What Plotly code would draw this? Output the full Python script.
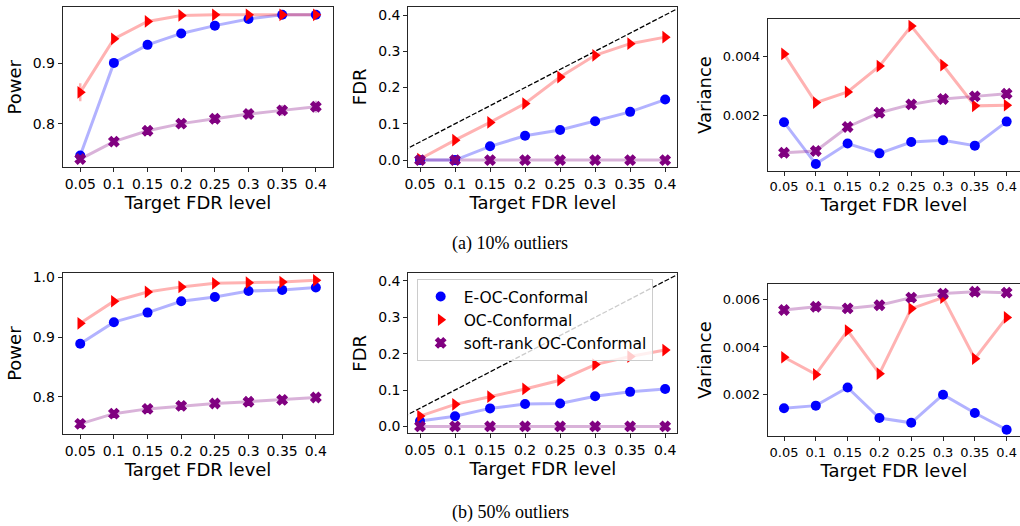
import plotly.graph_objects as go

# ---------------- data ----------------
levels = [0.05, 0.1, 0.15, 0.2, 0.25, 0.3, 0.35, 0.4]
level_labels = ["0.05", "0.1", "0.15", "0.2", "0.25", "0.3", "0.35", "0.4"]
methods = ["E-OC-Conformal", "OC-Conformal", "soft-rank OC-Conformal"]

# (a) 10% outliers
power10_e = [0.747, 0.901, 0.931, 0.950, 0.963, 0.974, 0.981, 0.981]
power10_oc = [0.852, 0.941, 0.970, 0.980, 0.981, 0.981, 0.981, 0.981]
power10_sr = [0.741, 0.770, 0.788, 0.800, 0.808, 0.816, 0.822, 0.828]
power10_e_err = [0.003, 0.003, 0.002, 0.002, 0.002, 0.002, 0.002, 0.002]
power10_oc_err = [0.015, 0.003, 0.002, 0.002, 0.002, 0.002, 0.002, 0.002]
power10_sr_err = [0.004, 0.004, 0.005, 0.006, 0.007, 0.008, 0.009, 0.010]

fdr10_e = [0.0, 0.0, 0.038, 0.067, 0.083, 0.107, 0.133, 0.167]
fdr10_oc = [0.003, 0.055, 0.104, 0.156, 0.229, 0.289, 0.321, 0.339]
fdr10_sr = [0.0, 0.0, 0.0, 0.0, 0.0, 0.0, 0.0, 0.0]

var10_e = [0.00178, 0.00037, 0.00106, 0.00073, 0.00111, 0.00117, 0.00099, 0.00180]
var10_oc = [0.00408, 0.00244, 0.00280, 0.00367, 0.00502, 0.00370, 0.00233, 0.00235]
var10_sr = [0.00075, 0.00081, 0.00162, 0.00210, 0.00238, 0.00256, 0.00265, 0.00274]

# (b) 50% outliers
power50_e = [0.889, 0.925, 0.941, 0.960, 0.967, 0.977, 0.979, 0.983]
power50_oc = [0.923, 0.960, 0.9755, 0.984, 0.990, 0.991, 0.992, 0.995]
power50_sr = [0.755, 0.772, 0.780, 0.785, 0.789, 0.792, 0.795, 0.799]

fdr50_e = [0.0147, 0.028, 0.0495, 0.0615, 0.063, 0.083, 0.095, 0.103]
fdr50_oc = [0.0284, 0.0606, 0.0817, 0.103, 0.127, 0.170, 0.192, 0.210]
fdr50_sr = [0.0, 0.0, 0.0, 0.0, 0.0, 0.0, 0.0, 0.0]

var50_e = [0.00143, 0.00154, 0.00230, 0.00102, 0.00082, 0.00200, 0.00123, 0.00053]
var50_oc = [0.00357, 0.00285, 0.00469, 0.00288, 0.00561, 0.00607, 0.00351, 0.00524]
var50_sr = [0.00555, 0.00569, 0.00562, 0.00575, 0.00607, 0.00624, 0.00632, 0.00628]

diag = [0.0, 0.5]

captions = ["(a) 10% outliers", "(b) 50% outliers"]

# ---------------- styles ----------------
marker_colors = ["#0000ff", "#ff0000", "#800080"]
line_colors = ["rgba(0,0,255,0.3)", "rgba(255,0,0,0.3)", "rgba(128,0,128,0.3)"]
symbols = ["circle", "triangle-right", "x"]
msizes = [10, 11, 9]
mlines = [0, 0, 1.2]
FONT = "DejaVu Sans"
AX = "#262626"

fig = go.Figure()

panels = [
    ([power10_e, power10_oc, power10_sr], [power10_e_err, power10_oc_err, power10_sr_err],
     "Power", [0.727, 0.994], [0.8, 0.9], ".1f", [0.024, 0.426], [0.0615, 0.3268], [0.6816, 0.9867], 14, False),
    ([fdr10_e, fdr10_oc, fdr10_sr], None,
     "FDR", [-0.019, 0.423], [0.0, 0.1, 0.2, 0.3, 0.4], ".1f", [0.0333, 0.4176], [0.4003, 0.6642], [0.6825, 0.9873], 14, True),
    ([var10_e, var10_oc, var10_sr], None,
     "Variance", [0.000146, 0.005247], [0.002, 0.004], ".3f", [0.0243, 0.421], [0.7526, 1.0], [0.6755, 0.9633], 13, False),
    ([power50_e, power50_oc, power50_sr], None,
     "Power", [0.738, 1.0067], [0.8, 0.9, 1.0], ".1f", [0.024, 0.426], [0.0615, 0.3268], [0.1749, 0.4804], 14, False),
    ([fdr50_e, fdr50_oc, fdr50_sr], None,
     "FDR", [-0.019, 0.421], [0.0, 0.1, 0.2, 0.3, 0.4], ".1f", [0.0333, 0.4176], [0.4003, 0.6642], [0.1762, 0.4804], 14, True),
    ([var50_e, var50_oc, var50_sr], None,
     "Variance", [0.000266, 0.00663], [0.002, 0.004, 0.006], ".3f", [0.0243, 0.421], [0.7526, 1.0], [0.1711, 0.4595], 13, False),
]

for i, (series, errs, ylab, yr, ytv, yfmt, xr, xdom, ydom, tfs, has_diag) in enumerate(panels):
    n = i + 1
    xa = "x" if n == 1 else f"x{n}"
    ya = "y" if n == 1 else f"y{n}"
    if has_diag:
        fig.add_trace(go.Scatter(x=diag, y=diag, mode="lines", xaxis=xa, yaxis=ya,
                                 line=dict(color="black", width=1.3, dash="5px,2px"),
                                 showlegend=False, hoverinfo="skip"))
    for k in range(3):
        fig.add_trace(go.Scatter(x=levels, y=series[k], mode="lines", xaxis=xa, yaxis=ya,
                                 line=dict(color=line_colors[k], width=3),
                                 showlegend=False, hoverinfo="skip"))
    for k in range(3):
        err = None
        if errs is not None:
            err = dict(type="data", array=errs[k], visible=True, color=line_colors[k],
                       thickness=2.5, width=0)
        fig.add_trace(go.Scatter(x=levels, y=series[k], mode="markers", xaxis=xa, yaxis=ya,
                                 name=methods[k], error_y=err,
                                 marker=dict(color=marker_colors[k], symbol=symbols[k],
                                             size=msizes[k],
                                             line=dict(width=mlines[k], color=marker_colors[k])),
                                 showlegend=(n == 5)))
    right_col = (n in (3, 6))
    xkey = "xaxis" if n == 1 else f"xaxis{n}"
    ykey = "yaxis" if n == 1 else f"yaxis{n}"
    fig.update_layout(**{
        xkey: dict(domain=xdom, range=xr, anchor=ya, tickvals=levels, ticktext=level_labels,
                   automargin=False,
                   showgrid=False, zeroline=False, showline=True, mirror=True,
                   linecolor=AX, linewidth=1, ticks="outside", ticklen=4, tickcolor=AX,
                   tickfont=dict(family=FONT, size=tfs, color="black"),
                   title=dict(text="Target FDR level", font=dict(family=FONT, size=18, color="black"),
                              standoff=4)),
        ykey: dict(domain=ydom, range=yr, anchor=xa, tickvals=ytv, tickformat=yfmt,
                   automargin=False,
                   showgrid=False, zeroline=False, showline=True, mirror=not right_col,
                   linecolor=AX, linewidth=1, ticks="outside", ticklen=4, tickcolor=AX,
                   tickfont=dict(family=FONT, size=tfs, color="black"),
                   title=dict(text=ylab, font=dict(family=FONT, size=18, color="black"),
                              standoff=6)),
    })

fig.add_annotation(text=captions[0], x=0.5, y=1 - 243 / 526, xref="paper", yref="paper",
                   showarrow=False, xanchor="center", yanchor="middle",
                   font=dict(family="Liberation Serif", size=18, color="black"))
fig.add_annotation(text=captions[1], x=0.5, y=1 - 512 / 526, xref="paper", yref="paper",
                   showarrow=False, xanchor="center", yanchor="middle",
                   font=dict(family="Liberation Serif", size=18, color="black"))

fig.update_layout(
    template="none",
    width=1020, height=526,
    margin=dict(l=0, r=0, t=0, b=0, autoexpand=False),
    paper_bgcolor="white", plot_bgcolor="white",
    font=dict(family=FONT, color="black"),
    legend=dict(x=0.4085, y=1 - 279 / 526, xanchor="left", yanchor="top",
                bgcolor="rgba(255,255,255,0.8)", bordercolor="#cccccc", borderwidth=1,
                font=dict(family=FONT, size=15.5, color="black"), itemwidth=36,
                tracegroupgap=0),
)

fig.write_html("out.html", config={"displayModeBar": False},
               post_script="document.body.style.margin='0';document.body.style.overflow='hidden';")
